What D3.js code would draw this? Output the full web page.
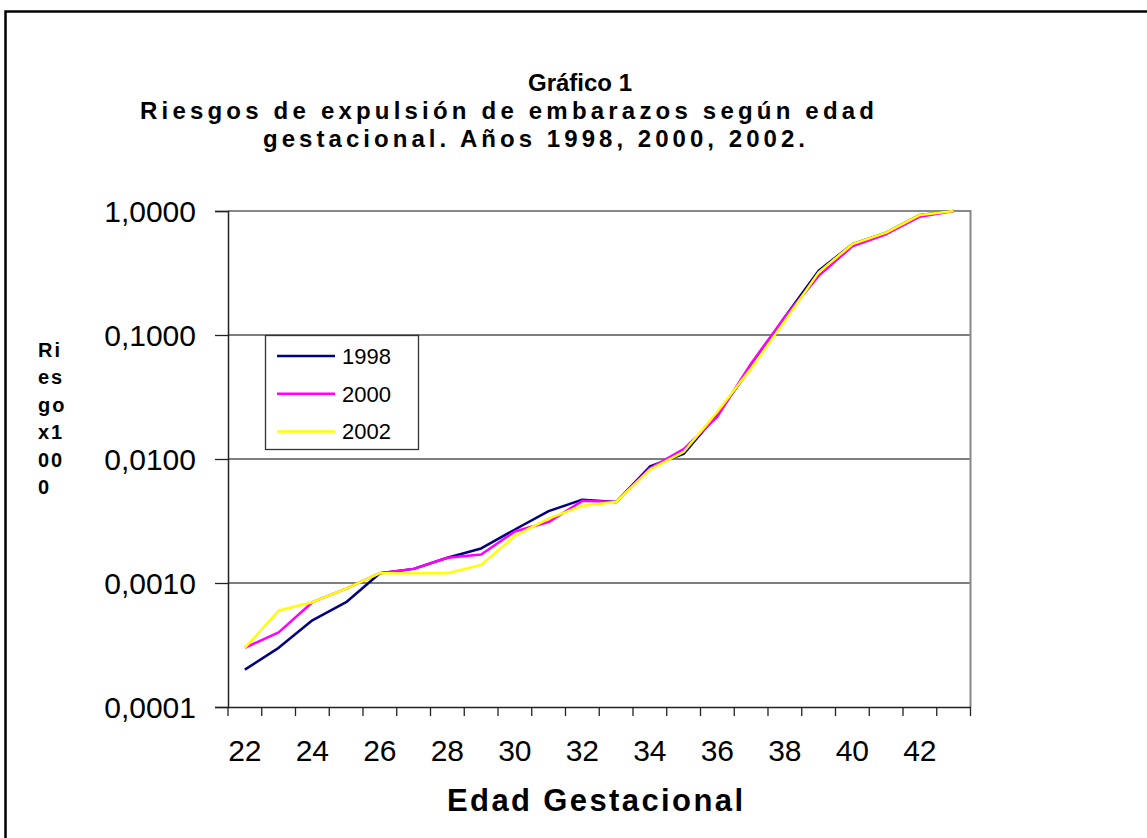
<!DOCTYPE html>
<html>
<head>
<meta charset="utf-8">
<script src="https://cdn.jsdelivr.net/npm/d3@7/dist/d3.min.js"></script>
<style>
  html, body { margin: 0; padding: 0; background: #fff; }
  svg { display: block; font-family: "Liberation Sans", Arial, sans-serif; }
</style>
</head>
<body>
<svg id="chart" width="1147" height="838"></svg>
<script>
// ---- data ----
const weeks = [22,23,24,25,26,27,28,29,30,31,32,33,34,35,36,37,38,39,40,41,42,43];
const labelWeeks = [22,24,26,28,30,32,34,36,38,40,42];
const yTicks = [0.0001, 0.001, 0.01, 0.1, 1];
const seriesNames = ["1998", "2000", "2002"];
const seriesColors = ["#000080", "#FF00FF", "#FFFF00"];
const risk1998 = [0.0002,0.0003,0.0005,0.0007,0.0012,0.0013,0.0016,0.0019,0.0027,0.0038,0.0047,0.0045,0.0087,0.011,0.023,0.055,0.14,0.33,0.54,0.67,0.93,1.0];
const risk2000 = [0.0003,0.0004,0.0007,0.0009,0.0012,0.0013,0.0016,0.0017,0.0026,0.0031,0.0046,0.0045,0.0084,0.012,0.022,0.059,0.14,0.30,0.52,0.65,0.90,1.0];
const risk2002 = [0.0003,0.0006,0.0007,0.0009,0.0012,0.0012,0.0012,0.0014,0.0024,0.0033,0.0042,0.0045,0.0082,0.0114,0.024,0.054,0.13,0.32,0.54,0.67,0.93,1.0];
const titleLines = ["Gráfico 1", "Riesgos de expulsión de embarazos según edad", "gestacional. Años 1998, 2000, 2002."];
const yTitleLines = ["Ri", "es", "go", "x1", "00", "0"];
const xTitle = "Edad Gestacional";

const series = [risk1998, risk2000, risk2002];

const svg = d3.select("#chart");
const plot = { left: 228, right: 970.5, top: 211, bottom: 707 };

// outer frame (left + top only visible)
svg.append("path")
  .attr("d", `M5.5,838 L5.5,11.5 L1147,11.5`)
  .attr("fill", "none").attr("stroke", "#000").attr("stroke-width", 2.5);

// titles
svg.append("text")
  .attr("x", 580).attr("y", 91).attr("text-anchor", "middle")
  .attr("font-size", 24).attr("font-weight", "bold").text(titleLines[0]);
const tl = [
  null,
  { x: 140, y: 119, w: 734 },
  { x: 263, y: 147, w: 542 }
];
[1, 2].forEach(i => {
  svg.append("text")
    .attr("x", tl[i].x).attr("y", tl[i].y)
    .attr("textLength", tl[i].w).attr("lengthAdjust", "spacing")
    .attr("font-size", 24).attr("font-weight", "bold").attr("fill", "#000")
    .text(titleLines[i]);
});

const x = d3.scaleBand().domain(weeks).range([plot.left, plot.right]).padding(0);
const cx = d => x(d) + x.bandwidth() / 2;
const y = d3.scaleLog().domain([0.0001, 1]).range([plot.bottom, plot.top]);

// gridlines
svg.append("g").selectAll("line")
  .data(yTicks.filter(v => v > 0.0001 && v < 1))
  .join("line")
  .attr("x1", plot.left).attr("x2", plot.right)
  .attr("y1", d => y(d)).attr("y2", d => y(d))
  .attr("stroke", "#555").attr("stroke-width", 1.3);

// plot border top/right (gray)
svg.append("path")
  .attr("d", `M${plot.left},${plot.top} L${plot.right},${plot.top} L${plot.right},${plot.bottom}`)
  .attr("fill", "none").attr("stroke", "#888").attr("stroke-width", 2);

// y axis
const locale = d3.formatLocale({ decimal: ",", thousands: ".", grouping: [3], currency: ["", ""] });
const fmt = locale.format(".4f");
const yAxis = svg.append("g")
  .attr("transform", `translate(${plot.left},0)`)
  .call(d3.axisLeft(y).tickValues(yTicks).tickFormat(fmt).tickSize(13).tickPadding(19));
yAxis.select(".domain").attr("stroke", "#222").attr("stroke-width", 1.5);
yAxis.selectAll(".tick line").attr("stroke", "#222").attr("stroke-width", 1.3);
yAxis.selectAll(".tick text")
  .attr("font-size", 30).attr("font-family", "Liberation Sans, Arial, sans-serif")
  .attr("fill", "#000").attr("dy", "0.36em").attr("y", 0);

// x axis
const xAxis = svg.append("g")
  .attr("transform", `translate(0,${plot.bottom})`)
  .call(d3.axisBottom(x).tickValues(labelWeeks).tickSize(0).tickPadding(33));
xAxis.select(".domain").attr("stroke", "#222").attr("stroke-width", 1.5);
xAxis.selectAll(".tick text")
  .attr("font-size", 30).attr("font-family", "Liberation Sans, Arial, sans-serif")
  .attr("fill", "#000");
// tick marks at category boundaries
const bounds = weeks.map(w => x(w)).concat([x(weeks[weeks.length - 1]) + x.bandwidth()]);
svg.append("g").selectAll("line").data(bounds).join("line")
  .attr("x1", d => d).attr("x2", d => d)
  .attr("y1", plot.bottom).attr("y2", plot.bottom + 9)
  .attr("stroke", "#222").attr("stroke-width", 1.3);

// axis titles
svg.append("text")
  .attr("x", 447).attr("y", 811)
  .attr("textLength", 296).attr("lengthAdjust", "spacing")
  .attr("font-size", 31).attr("font-weight", "bold").text(xTitle);

yTitleLines.forEach((t, i) => {
  svg.append("text")
    .attr("x", 38).attr("y", 357 + i * 27.4)
    .attr("font-size", 20).attr("font-weight", "bold")
    .attr("letter-spacing", 2)
    .text(t);
});

// lines
const line = d3.line().x((d, i) => cx(weeks[i])).y(d => y(d));
series.forEach((s, k) => {
  svg.append("path").datum(s)
    .attr("d", line)
    .attr("fill", "none").attr("stroke", seriesColors[k])
    .attr("stroke-width", 2.5).attr("stroke-linejoin", "round");
});

// legend
const lg = svg.append("g");
lg.append("rect").attr("x", 265.5).attr("y", 335.5).attr("width", 153).attr("height", 114)
  .attr("fill", "#fff").attr("stroke", "#333").attr("stroke-width", 1.3);
seriesNames.forEach((n, k) => {
  const yy = 356 + k * 37.7;
  lg.append("line").attr("x1", 277).attr("x2", 335).attr("y1", yy).attr("y2", yy)
    .attr("stroke", seriesColors[k]).attr("stroke-width", 2.5);
  lg.append("text").attr("x", 342).attr("y", yy + 8).attr("font-size", 22).text(n);
});
</script>
</body>
</html>
